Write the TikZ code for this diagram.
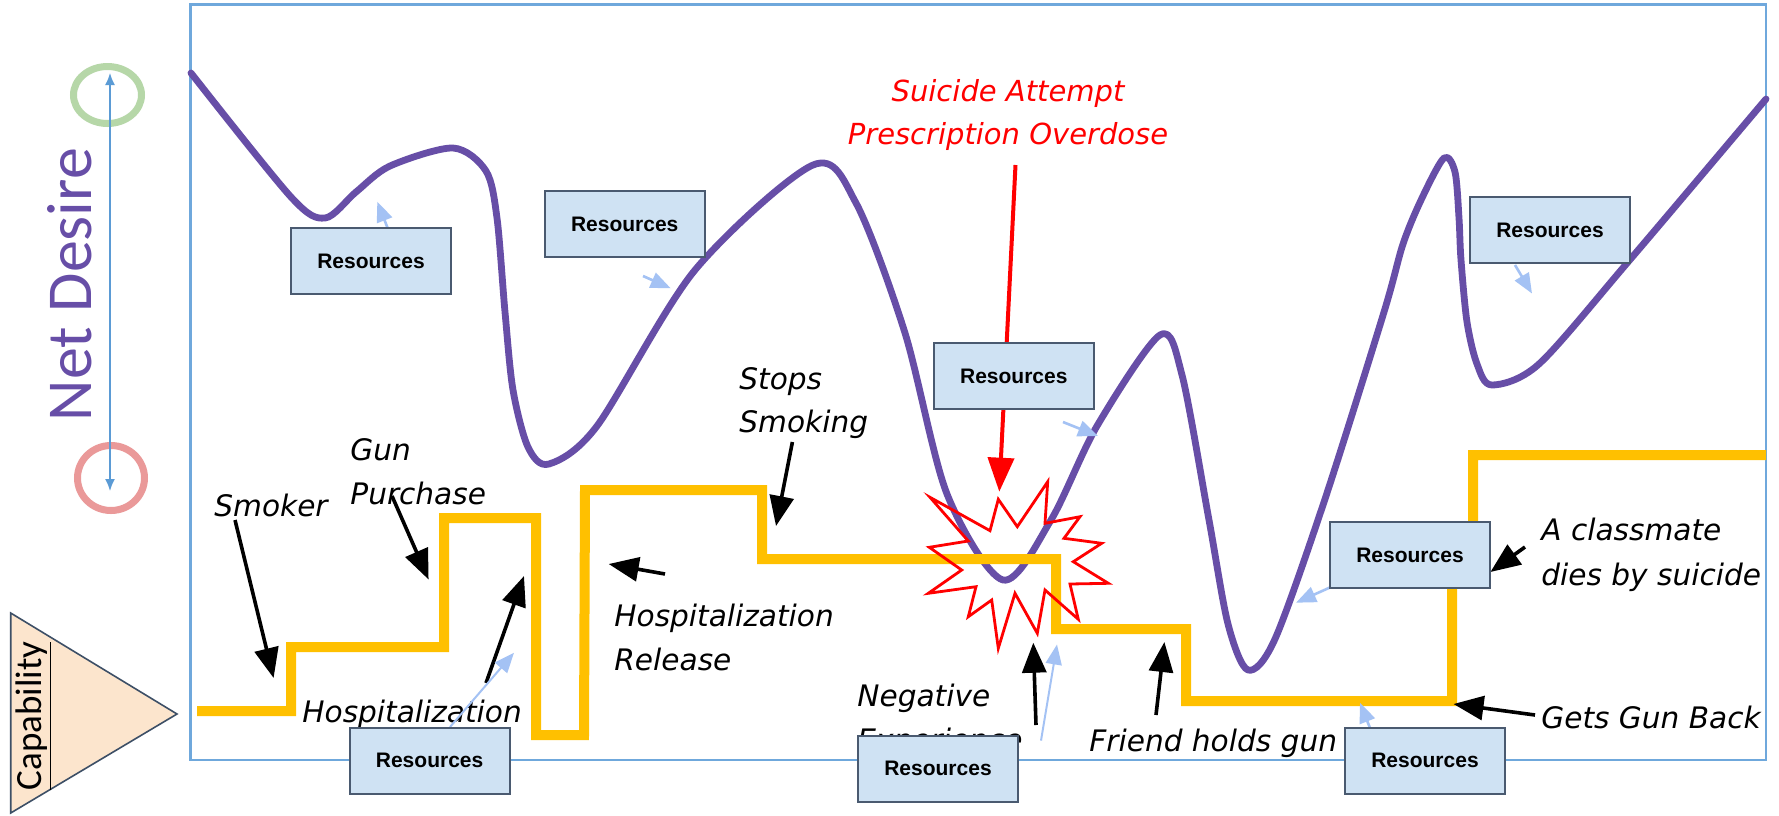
\documentclass[tikz,border=0pt]{standalone}
\usepackage{fontspec}
\setmainfont{DejaVu Sans}
\newfontfamily\resfont{Liberation Sans}
\newfontfamily\calfont{Carlito}
\usetikzlibrary{arrows.meta,shapes.geometric}
\definecolor{purp}{HTML}{674EA7}
\definecolor{amber}{HTML}{FFC000}
\definecolor{boxfill}{HTML}{CFE2F3}
\definecolor{boxline}{HTML}{4A5A70}
\definecolor{lblue}{HTML}{A4C2F4}
\definecolor{frameblue}{HTML}{6FA8DC}
\definecolor{axisblue}{HTML}{5B9BD5}
\definecolor{gring}{HTML}{B6D7A8}
\definecolor{rring}{HTML}{EA9999}
\definecolor{peach}{HTML}{FCE5CD}
\definecolor{triline}{HTML}{3D4F66}
\definecolor{attred}{HTML}{FF0000}
\begin{document}
\begin{tikzpicture}[x=0.5pt,y=-0.5pt,
  res/.style={draw=boxline, line width=1pt, fill=boxfill, minimum width=80pt,
    minimum height=33pt, inner sep=0pt, font=\resfont\bfseries\fontsize{10.5}{12}\selectfont},
  lbl/.style={anchor=base west, inner sep=0pt, font=\itshape\fontsize{14.8}{18}\selectfont},
  redlbl/.style={anchor=base, inner sep=0pt, text=attred, font=\itshape\fontsize{14.5}{18}\selectfont},
  blk/.style={line width=1.8pt, -{Triangle[length=15pt,width=12pt]}},
  redarr/.style={draw=attred, line width=2pt, -{Triangle[length=17pt,width=13pt]}},
  bluearr/.style={draw=lblue, line width=1.3pt, -{Triangle[length=10pt,width=8pt]}},
  thinblue/.style={draw=lblue, line width=1pt, -{Triangle[length=10pt,width=8pt]}},
  ring/.style={ellipse, line width=3.5pt, inner sep=0pt},
  desire/.style={draw=purp, line width=3.4pt, line cap=round, line join=round},
  capab/.style={draw=amber, line width=5pt, line join=miter},
  burst/.style={draw=attred, line width=1.4pt, line join=miter}
]
\useasboundingbox (0,0) rectangle (1779,815);
\fill[white] (0,0) rectangle (1779,815);

% frame
\draw[frameblue, line width=1.2pt] (190.6,4.5) rectangle (1766,760);

% Net Desire axis
\node[ring, draw=gring, minimum width=34pt, minimum height=28.5pt] (hi) at (107.5,95) {};
\node[ring, draw=rring, minimum width=33.5pt, minimum height=32.5pt] (lo) at (111,478) {};
\coordinate (axtop) at (110,73);
\coordinate (axbot) at (110,491);
\draw[axisblue, line width=0.8pt, {Latex[length=6pt,width=5pt]}-{Latex[length=6pt,width=5pt]}] (axtop) -- (axbot);
\node[rotate=90, anchor=base, inner sep=0pt, text=purp, font=\calfont\fontsize{32}{38}\selectfont] (nd) at (91.8,284.6) {Net Desire};

% Capability triangle
\draw[fill=peach, draw=triline, line width=0.8pt] (10.7,613) -- (10.7,813) -- (177,714) -- cycle;
\node[rotate=90, anchor=base, inner sep=0pt, font=\calfont\fontsize{18.5}{22}\selectfont] (cap) at (41.8,716) {\underline{Capability}};

% net desire curve
\draw[desire] plot[smooth, tension=0.5] coordinates {
 (191,73) (291,197) (325,218) (356,192) (390,166) (453,148) (486,171) (497,218)
 (505,312) (513,390) (528,447) (549,464) (597,426) (695,270) (813,165) (856,203)
 (905,333) (947,494) (1003,580) (1051,520) (1097,426) (1160,335) (1182,375)
 (1209,520) (1228,624) (1248,670) (1275,639) (1325,499) (1384,312) (1403,244)
 (1422,198) (1444,158) (1455,172) (1459,218) (1461,260) (1467,322) (1477,364)
 (1492,385) (1539,364) (1628,262) (1766,99)};

% capability staircase
\draw[capab] (197,711) -- (291,711) -- (291,647) -- (444,647) -- (444,518) -- (536,518)
 -- (536,735) -- (584,735) -- (585,490) -- (762,490) -- (762,559) -- (1056,559)
 -- (1056,629) -- (1186,629) -- (1186,701) -- (1452,701) -- (1452,560) -- (1473,540)
 -- (1473,455) -- (1766,455);

% starburst
\draw[burst] (930,497.3) -- (990,530.7) -- (998.3,499.3) -- (1017.3,526.7) -- (1047.7,481.7)
 -- (1045,523.3) -- (1080,516.7) -- (1064,538.3) -- (1101.7,543.3) -- (1073.3,561.7)
 -- (1108.3,583.3) -- (1070,584) -- (1078.3,619.3) -- (1045,590) -- (1037.3,633.3)
 -- (1015,593.3) -- (998.3,648.3) -- (991.7,600) -- (968.3,616.7) -- (976,586.7)
 -- (928.3,593.3) -- (961.7,570) -- (929.3,547.3) -- (968.3,541) -- cycle;

% labels
\node[lbl] (smoker) at (214,516) {Smoker};
\node[lbl] (gun1) at (350,460) {Gun};
\node[lbl] (gun2) at (350,504) {Purchase};
\node[lbl] (hosp) at (302,722) {Hospitalization};
\node[lbl] (rel1) at (614,626) {Hospitalization};
\node[lbl] (rel2) at (614,670) {Release};
\node[lbl] (stop1) at (739,389) {Stops};
\node[lbl] (stop2) at (739,432) {Smoking};
\node[lbl] (neg1) at (857,706) {Negative};
\node[lbl] (neg2) at (857,750) {Experience};
\node[lbl] (friend) at (1089,751) {Friend holds gun};
\node[lbl] (class1) at (1541,540) {A classmate};
\node[lbl] (class2) at (1541,585) {dies by suicide};
\node[lbl] (back) at (1541,728) {Gets Gun Back};
\node[redlbl] (att1) at (1008,101) {Suicide Attempt};
\node[redlbl] (att2) at (1008,144.5) {Prescription Overdose};

% black arrows
\coordinate (smokerT) at (235,520);   \coordinate (smokerH) at (273.6,678);
\coordinate (gunT) at (392,496);      \coordinate (gunH) at (428.6,579.5);
\coordinate (hospT) at (486,683);     \coordinate (hospH) at (524,576);
\coordinate (relT) at (665,574);      \coordinate (relH) at (608.7,564);
\coordinate (stopT) at (792.4,442);   \coordinate (stopH) at (776,526);
\coordinate (negT) at (1036,725);     \coordinate (negH) at (1033.3,642.7);
\coordinate (friendT) at (1156,715);  \coordinate (friendH) at (1164.4,642);
\coordinate (classT) at (1525,547);   \coordinate (classH) at (1490.4,572);
\coordinate (backT) at (1535,715);    \coordinate (backH) at (1453.5,704);
\draw[blk] (smokerT) -- (smokerH);
\draw[blk] (gunT) -- (gunH);
\draw[blk] (hospT) -- (hospH);
\draw[blk] (relT) -- (relH);
\draw[blk] (stopT) -- (stopH);
\draw[blk] (negT) -- (negH);
\draw[blk] (friendT) -- (friendH);
\draw[blk] (classT) -- (classH);
\draw[blk] (backT) -- (backH);

% red arrow
\coordinate (attT) at (1015.5,165);
\coordinate (attH) at (999.3,491.7);
\draw[redarr] (attT) -- (attH);

% light blue arrows
\coordinate (bAT) at (388,229);    \coordinate (bAH) at (377.3,201.7);
\coordinate (bBT) at (643,276);    \coordinate (bBH) at (670.7,288.3);
\coordinate (bCT) at (1063,422);   \coordinate (bCH) at (1098,436);
\coordinate (bFT) at (1515,265);   \coordinate (bFH) at (1532,293.5);
\coordinate (bGT) at (1331,587);   \coordinate (bGH) at (1296,602.7);
\coordinate (bHT) at (1370,728);   \coordinate (bHH) at (1360,702.7);
\coordinate (bDT) at (450,727);    \coordinate (bDH) at (514,652.7);
\coordinate (bET) at (1041,740.6); \coordinate (bEH) at (1057,644.5);
\draw[bluearr] (bAT) -- (bAH);
\draw[bluearr] (bBT) -- (bBH);
\draw[bluearr] (bCT) -- (bCH);
\draw[bluearr] (bFT) -- (bFH);
\draw[bluearr] (bGT) -- (bGH);
\draw[bluearr] (bHT) -- (bHH);
\draw[thinblue] (bDT) -- (bDH);
\draw[thinblue] (bET) -- (bEH);

% resources boxes
\node[res] (rA) at (371,261) {Resources};
\node[res] (rB) at (624.7,224) {Resources};
\node[res] (rC) at (1013.8,376) {Resources};
\node[res] (rD) at (429.6,760.7) {Resources};
\node[res] (rE) at (938,768.5) {Resources};
\node[res] (rF) at (1550,230) {Resources};
\node[res] (rG) at (1410,555) {Resources};
\node[res] (rH) at (1425,760.7) {Resources};
\end{tikzpicture}
\end{document}
